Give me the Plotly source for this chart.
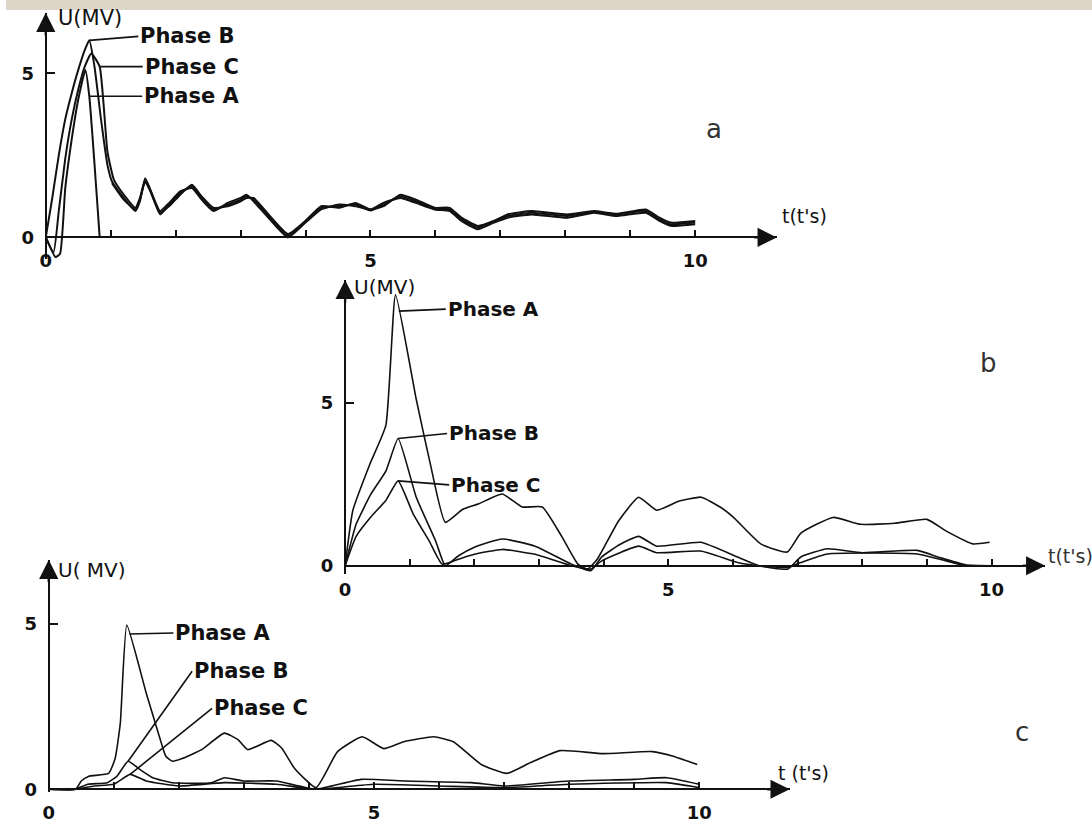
import plotly.graph_objects as go

W, H = 1092, 823
FONT = "DejaVu Sans"

# ---------------- data: panel a ----------------
a_t_B = [0, 0.1, 0.2, 0.3, 0.4, 0.5, 0.6, 0.67, 0.75, 0.85, 0.95, 1.02, 1.2, 1.38, 1.45, 1.53, 1.6, 1.76, 1.9, 2.07,
         2.25, 2.4, 2.58, 2.8, 3.0, 3.09, 3.2, 3.45, 3.73, 4.0, 4.24, 4.52, 4.77, 5.0, 5.2, 5.46, 5.7, 5.99, 6.22, 6.4,
         6.65, 6.9, 7.11, 7.48, 8.03, 8.44, 8.79, 9.24, 9.45, 9.62, 10.0]
a_U_B = [0, 1.2, 2.5, 3.6, 4.4, 5.1, 5.7, 6.0, 5.2, 3.6, 2.2, 1.7, 1.2, 0.8, 1.1, 1.8, 1.5, 0.7, 1.0, 1.35,
         1.55, 1.2, 0.85, 1.0, 1.15, 1.25, 1.15, 0.6, 0.05, 0.5, 0.9, 0.95, 1.0, 0.82, 1.0, 1.25, 1.1, 0.88, 0.85, 0.55,
         0.3, 0.5, 0.65, 0.75, 0.65, 0.78, 0.7, 0.8, 0.55, 0.4, 0.45]
a_t_C = [0, 0.12, 0.2, 0.3, 0.4, 0.5, 0.6, 0.7, 0.83, 0.95, 1.05, 1.2, 1.38, 1.45, 1.53, 1.62, 1.76, 1.9, 2.07, 2.25,
         2.4, 2.58, 2.8, 3.0, 3.09, 3.2, 3.45, 3.73, 4.0, 4.24, 4.52, 4.77, 5.0, 5.2, 5.46, 5.7, 5.99, 6.22, 6.4, 6.65,
         6.9, 7.11, 7.48, 8.03, 8.44, 8.79, 9.24, 9.45, 9.62, 10.0]
a_U_C = [0, -0.45, 0.8, 2.4, 3.6, 4.5, 5.2, 5.6, 5.2, 2.6, 1.75, 1.3, 0.9, 1.2, 1.75, 1.4, 0.8, 1.05, 1.4, 1.5,
         1.15, 0.8, 1.05, 1.2, 1.3, 1.1, 0.55, 0.0, 0.45, 0.85, 1.0, 0.95, 0.85, 1.05, 1.2, 1.05, 0.85, 0.8, 0.5, 0.25,
         0.45, 0.6, 0.7, 0.6, 0.75, 0.65, 0.75, 0.5, 0.35, 0.4]
a_t_A = [0, 0.15, 0.22, 0.3, 0.4, 0.5, 0.61, 0.67, 0.83, None, 1.02, 1.2, 1.38, 1.45, 1.53, 1.6, 1.76, 1.9, 2.07, 2.25,
         2.4, 2.58, 2.8, 3.0, 3.09, 3.2, 3.45, 3.73, 4.0, 4.24, 4.52, 4.77, 5.0, 5.2, 5.46, 5.7, 5.99, 6.22, 6.4, 6.65,
         6.9, 7.11, 7.48, 8.03, 8.44, 8.79, 9.24, 9.45, 9.62, 10.0]
a_U_A = [0, -0.6, -0.5, 1.5, 3.0, 4.2, 5.1, 4.3, 0.0, None, 1.65, 1.15, 0.85, 1.15, 1.7, 1.45, 0.75, 0.95, 1.3, 1.6,
         1.25, 0.9, 0.95, 1.1, 1.2, 1.2, 0.65, 0.1, 0.5, 0.95, 0.9, 1.05, 0.85, 0.95, 1.3, 1.15, 0.9, 0.9, 0.6, 0.35,
         0.5, 0.7, 0.8, 0.7, 0.8, 0.72, 0.85, 0.6, 0.45, 0.5]

# ---------------- data: panel b ----------------
b_t_A = [0, 0.12, 0.38, 0.63, 0.78, 1.1, 1.32, 1.55, 1.82, 2.07, 2.43, 2.74, 3.05, 3.35, 3.6, 3.75, 3.9, 4.23, 4.54,
         4.82, 5.15, 5.51, 5.8, 6.0, 6.43, 6.84, 7.05, 7.55, 7.97, 8.5, 9.0, 9.3, 9.71, 9.97]
b_U_A = [0, 1.7, 3.1, 4.3, 8.3, 5.1, 3.1, 1.33, 1.73, 1.9, 2.2, 1.8, 1.8, 0.9, 0.05, -0.1, 0.2, 1.37, 2.1,
         1.7, 1.97, 2.1, 1.8, 1.5, 0.67, 0.42, 1.0, 1.48, 1.27, 1.3, 1.42, 1.06, 0.67, 0.72]
b_t_B = [0, 0.17, 0.4, 0.63, 0.82, 1.1, 1.4, 1.55, 1.75, 2.0, 2.43, 2.94, 3.5, 3.8, 3.97, 4.25, 4.54, 4.82, 5.5, 6.07,
         6.4, 6.85, 7.05, 7.46, 8.0, 8.85, 9.2, 9.6, 10.0]
b_U_B = [0, 1.27, 2.2, 2.9, 3.9, 2.1, 0.76, 0.0, 0.3, 0.57, 0.82, 0.6, 0.05, -0.15, 0.27, 0.65, 0.9, 0.6, 0.72, 0.27,
         0.0, -0.1, 0.27, 0.52, 0.4, 0.47, 0.25, 0.03, 0.0]
b_t_C = [0, 0.17, 0.4, 0.63, 0.82, 1.05, 1.3, 1.5, 1.75, 2.0, 2.43, 2.94, 3.5, 3.8, 3.97, 4.54, 4.82, 5.5, 6.07, 6.4,
         6.85, 7.05, 7.46, 8.85, 9.2, 9.6, 10.0]
b_U_C = [0, 0.9, 1.5, 2.0, 2.6, 1.6, 0.76, 0.05, 0.2, 0.35, 0.5, 0.35, 0.0, -0.1, 0.15, 0.6, 0.4, 0.45, 0.1, 0.0,
         -0.05, 0.1, 0.36, 0.36, 0.2, 0.0, 0.0]

# ---------------- data: panel c ----------------
c_t_A = [0, 0.41, 0.5, 0.61, 0.92, 1.02, 1.1, 1.2, 1.5, 1.7, 1.8, 1.9, 2.05, 2.35, 2.7, 2.91, 3.06, 3.42, 3.58, 3.78,
         4.11, 4.44, 4.82, 5.15, 5.46, 5.92, 6.22, 6.65, 7.04, 7.4, 7.86, 8.52, 9.28, 9.6, 9.97]
c_U_A = [0, 0.0, 0.25, 0.39, 0.48, 0.93, 2.0, 4.97, 2.9, 1.6, 1.0, 0.85, 0.93, 1.2, 1.7, 1.5, 1.2, 1.48, 1.25, 0.63,
         0.05, 1.14, 1.59, 1.23, 1.44, 1.59, 1.44, 0.75, 0.48, 0.8, 1.17, 1.08, 1.14, 1.0, 0.75]
c_t_B = [0, 0.4, 0.6, 0.9, 1.05, 1.22, 1.4, 1.6, 1.9, 2.5, 2.7, 3.0, 3.5, 4.1, 4.8, 5.5, 6.5, 7.0, 8.0, 9.0, 9.5, 10.0]
c_U_B = [0, 0.0, 0.15, 0.2, 0.4, 0.85, 0.6, 0.35, 0.2, 0.2, 0.35, 0.25, 0.25, 0.0, 0.3, 0.25, 0.2, 0.1, 0.25, 0.3,
         0.35, 0.15]
c_t_C = [0, 0.4, 0.7, 1.0, 1.25, 1.5, 2.0, 2.7, 3.5, 4.1, 5.0, 6.0, 7.0, 8.0, 9.5, 10.0]
c_U_C = [0, 0.0, 0.1, 0.15, 0.45, 0.25, 0.1, 0.2, 0.15, 0.0, 0.15, 0.1, 0.05, 0.15, 0.2, 0.05]

x_tick_vals = list(range(0, 11))
x_tick_text = ["0", "", "", "", "", "5", "", "", "", "", "10"]
y_tick_vals = [0, 5]
y_tick_text = ["0", "5"]

# ---------------- geometry (pixels) ----------------
panels = {
    "a": dict(x0=40, xu=65.3, xend=775, y0=240, yu=33.2, ytop=13, ybot=262, lw=2.0),
    "b": dict(x0=341, xu=65.0, xend=1045, y0=572, yu=33.0, ytop=283, ybot=580, lw=1.6),
    "c": dict(x0=43, xu=65.4, xend=788, y0=798, yu=33.4, ytop=566, ybot=801, lw=1.6),
}
axis_ids = {"a": ("", "x", "y"), "b": ("2", "x2", "y2"), "c": ("3", "x3", "y3")}

series = {
    "a": [("Phase A", a_t_A, a_U_A), ("Phase B", a_t_B, a_U_B), ("Phase C", a_t_C, a_U_C)],
    "b": [("Phase A", b_t_A, b_U_A), ("Phase B", b_t_B, b_U_B), ("Phase C", b_t_C, b_U_C)],
    "c": [("Phase A", c_t_A, c_U_A), ("Phase B", c_t_B, c_U_B), ("Phase C", c_t_C, c_U_C)],
}

fig = go.Figure()
layout_axes = {}
annotations = []
TICKFONT = dict(family=FONT, size=18, color="#111", weight="bold")

for key, g in panels.items():
    suf, xr, yr = axis_ids[key]
    xrange = [0, (g["xend"] - g["x0"]) / g["xu"]]
    yrange = [-(g["ybot"] - g["y0"]) / g["yu"], (g["y0"] - g["ytop"]) / g["yu"]]
    for name, t, u in series[key]:
        fig.add_trace(go.Scatter(x=t, y=u, mode="lines", name=name, xaxis=xr, yaxis=yr,
                                 line=dict(color="#111", width=g["lw"], shape="spline", smoothing=0.45),
                                 connectgaps=False, showlegend=False))
    layout_axes["xaxis" + suf] = dict(
        domain=[g["x0"] / W, g["xend"] / W], range=xrange, anchor="free", position=1 - g["y0"] / H,
        showline=True, linecolor="#111", linewidth=2.4, showgrid=False, zeroline=False,
        ticks="inside", ticklen=6, tickwidth=2, tickcolor="#111",
        tickvals=x_tick_vals, ticktext=x_tick_text, ticklabelstandoff=7,
        tickfont=TICKFONT,
    )
    layout_axes["yaxis" + suf] = dict(
        domain=[1 - g["ybot"] / H, 1 - g["ytop"] / H], range=yrange, anchor="free", position=g["x0"] / W,
        showline=True, linecolor="#111", linewidth=2.4, showgrid=False, zeroline=False,
        ticks="inside", ticklen=8, tickwidth=2, tickcolor="#111",
        tickvals=y_tick_vals, ticktext=y_tick_text, ticklabelstandoff=7,
        tickfont=TICKFONT,
    )
    # arrowheads at the axis ends
    annotations.append(dict(xref=xr, yref=yr, x=xrange[1], y=0, ax=-24, ay=0, text="", showarrow=True,
                            arrowhead=2, arrowsize=1.6, arrowwidth=2.4, arrowcolor="#111"))
    annotations.append(dict(xref=xr, yref=yr, x=0, y=yrange[1], ax=0, ay=24, text="", showarrow=True,
                            arrowhead=2, arrowsize=1.6, arrowwidth=2.4, arrowcolor="#111"))

# phase labels: (panel, text, head t, head U, dx px, dy px, font size)
phase_labels = [
    ("a", "Phase B", 0.67, 6.0, 49, -4, 21),
    ("a", "Phase C", 0.83, 5.2, 43, 0, 21),
    ("a", "Phase A", 0.67, 4.3, 53, 0, 21),
    ("b", "Phase A", 0.83, 7.8, 47, -2, 20),
    ("b", "Phase B", 0.82, 3.9, 49, -5, 20),
    ("b", "Phase C", 0.82, 2.6, 51, 4, 20),
    ("c", "Phase A", 1.24, 4.7, 44, -1, 21),
    ("c", "Phase B", 1.22, 0.85, 64, -90, 21),
    ("c", "Phase C", 1.25, 0.45, 82, -66, 21),
]
for key, txt, ht, hu, dx, dy, fs in phase_labels:
    _, xr, yr = axis_ids[key]
    annotations.append(dict(xref=xr, yref=yr, x=ht, y=hu, ax=dx, ay=dy, text="<b>%s</b>" % txt,
                            showarrow=True, arrowhead=0, arrowwidth=1.6, arrowcolor="#111",
                            xanchor="left", yanchor="middle",
                            font=dict(family=FONT, size=fs, color="#111")))

# axis titles and panel letters (pixel positions)
texts = [
    ("U(MV)", 50, 18, 21, "left", "#111"),
    ("t(t's)", 778, 218, 19, "left", "#111"),
    ("U(MV)", 348, 290, 20, "left", "#111"),
    ("t(t's)", 1046, 562, 19, "left", "#333"),
    ("U( MV)", 50, 576, 20, "left", "#111"),
    ("t (t's)", 774, 782, 19, "left", "#111"),
    ("a", 712, 130, 26, "center", "#333"),
    ("b", 988, 367, 26, "center", "#333"),
    ("c", 1022, 740, 26, "center", "#333"),
]
for txt, px, py, fs, xa, col in texts:
    annotations.append(dict(xref="paper", yref="paper", x=px / W, y=1 - py / H, text=txt, showarrow=False,
                            xanchor=xa, yanchor="middle", font=dict(family=FONT, size=fs, color=col)))

fig.update_layout(
    width=W, height=H, margin=dict(l=0, r=0, t=0, b=0),
    paper_bgcolor="white", plot_bgcolor="rgba(0,0,0,0)",
    showlegend=False, annotations=annotations,
    shapes=[dict(type="rect", xref="paper", yref="paper", x0=0, x1=1, y0=1 - 10 / H, y1=1,
                 fillcolor="#ddd6c8", line=dict(width=0), layer="below")],
    **layout_axes,
)

fig.write_html("out.html")
